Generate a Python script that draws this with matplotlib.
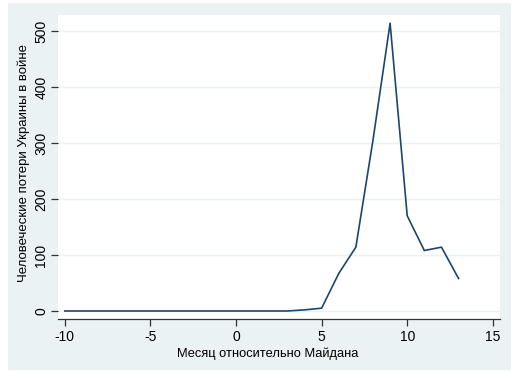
import matplotlib.pyplot as plt
from matplotlib.patches import Rectangle

plt.rcParams['font.family'] = ['Liberation Sans', 'DejaVu Sans']
plt.rcParams['axes.unicode_minus'] = False

# month relative to Maidan and casualties
months = [-10, -9, -8, -7, -6, -5, -4, -3, -2, -1, 0, 1, 2, 3, 4, 5, 6, 7, 8, 9, 10, 11, 12, 13]
losses = [0, 0, 0, 0, 0, 0, 0, 0, 0, 0, 0, 0, 0, 0, 2, 5, 67, 114, 305, 514, 170, 108, 114, 58]

x_ticks = [-10, -5, 0, 5, 10, 15]
y_ticks = [0, 100, 200, 300, 400, 500]

W, H = 518, 371
fig = plt.figure(figsize=(W / 100, H / 100), dpi=100, facecolor='white')

# light background frame like Stata
fig.patches.append(Rectangle((8 / W, 1 - 370 / H), (511 - 8) / W, (370 - 3) / H,
                             transform=fig.transFigure, facecolor='#eaf2f3',
                             edgecolor='none', zorder=-10))

ax = fig.add_axes([58 / W, 1 - 319 / H, (500 - 58) / W, (319 - 15) / H])
ax.set_facecolor('white')

ax.plot(months, losses, color='#1a476f', linewidth=1.2)

ax.set_xlim(-10.4, 15.42)
ax.set_ylim(-14.3, 528.6)
ax.set_xticks(x_ticks)
ax.set_yticks(y_ticks)
ax.grid(axis='y', color='#eaf2f3', linewidth=1)
ax.set_axisbelow(True)

for s in ['top', 'right', 'left']:
    ax.spines[s].set_visible(False)
ax.spines['bottom'].set_color('#333333')
ax.spines['bottom'].set_linewidth(0.9)

ax.tick_params(axis='both', labelsize=10, color='#333333', length=5, width=0.9)
ax.tick_params(axis='x', pad=3)
ax.tick_params(axis='y', pad=2)
for lab in ax.get_yticklabels():
    lab.set_rotation(90)
    lab.set_va('center')

ax.set_xlabel('Месяц относительно Майдана', fontsize=9.3)
ax.set_ylabel('Человеческие потери Украины в войне', fontsize=9.5)
ax.xaxis.set_label_coords((268 - 58) / 442, (319 - 347) / 304)
ax.yaxis.set_label_coords((30 - 58) / 442, (319 - 163) / 304)

fig.savefig('out.png', dpi=100, facecolor=fig.get_facecolor())
